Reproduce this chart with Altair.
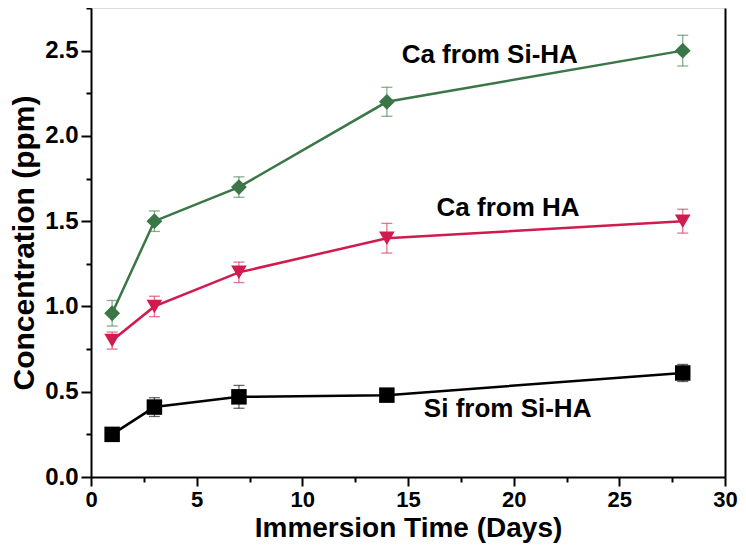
import altair as alt
import pandas as pd

days = [1, 3, 7, 14, 28]
series_names = ["Ca from Si-HA", "Ca from HA", "Si from Si-HA"]
ca_siha = [0.96, 1.50, 1.70, 2.20, 2.50]
ca_siha_err = [0.075, 0.06, 0.06, 0.085, 0.09]
ca_ha = [0.80, 1.00, 1.20, 1.40, 1.50]
ca_ha_err = [0.05, 0.06, 0.06, 0.087, 0.07]
si_siha = [0.25, 0.41, 0.47, 0.48, 0.61]
si_siha_err = [0.0, 0.055, 0.067, 0.035, 0.05]
colors = ["#3a7646", "#d11a4d", "#000000"]
shapes = ["diamond", "triangle-down", "square"]
marker_sizes = [250, 240, 140]

label_texts = ["Ca from Si-HA", "Ca from HA", "Si from Si-HA"]
label_x = [14.7, 16.35, 15.75]
label_y = [2.475, 1.578, 0.399]

rows = []
for name, vals, errs in zip(series_names, [ca_siha, ca_ha, si_siha],
                            [ca_siha_err, ca_ha_err, si_siha_err]):
    for d, v, e in zip(days, vals, errs):
        rows.append({"series": name, "day": d, "conc": v,
                     "lo": v - e, "hi": v + e})
df = pd.DataFrame(rows)
lab = pd.DataFrame({"text": label_texts, "x": label_x, "y": label_y})

FONT = "Liberation Sans"

xscale = alt.Scale(domain=[0, 30], nice=False, zero=False)
yscale = alt.Scale(domain=[0, 2.75], nice=False)
cscale = alt.Scale(domain=series_names, range=colors)
sscale = alt.Scale(domain=series_names, range=shapes)
zscale = alt.Scale(domain=series_names, range=marker_sizes)

xaxis = alt.Axis(
    values=[i * 2.5 for i in range(13)],
    labelExpr="datum.value % 5 === 0 ? datum.label : ''",
    tickSize={"condition": {"test": "datum.value % 5 === 0", "value": 9}, "value": 5},
    title="Immersion Time (Days)",
    titleFont=FONT, titleFontSize=28, titleFontWeight="bold", titleColor="black",
    titlePadding=4,
    labelFont=FONT, labelFontSize=22, labelFontWeight="bold", labelColor="black",
    labelPadding=3, labelFlush=False,
    domainColor="black", domainWidth=2, tickColor="black", tickWidth=2,
    grid=False,
)
yaxis = alt.Axis(
    values=[i * 0.25 for i in range(12)],
    labelExpr="abs(datum.value*2 - round(datum.value*2)) < 1e-6 ? format(datum.value, '.1f') : ''",
    tickSize={"condition": {"test": "abs(datum.value*2 - round(datum.value*2)) < 1e-6", "value": 10}, "value": 5},
    title="Concentration (ppm)",
    titleFont=FONT, titleFontSize=30, titleFontWeight="bold", titleColor="black",
    titlePadding=5,
    labelFont=FONT, labelFontSize=24, labelFontWeight="bold", labelColor="black",
    labelPadding=3, labelFlush=False,
    domainColor="black", domainWidth=2, tickColor="black", tickWidth=2,
    grid=False,
)

X = alt.X("day:Q", scale=xscale, axis=xaxis, title="Immersion Time (Days)")
C = alt.Color("series:N", scale=cscale, legend=None)

base = alt.Chart(df)

err = base.mark_errorbar(ticks={"size": 11, "thickness": 1.3}, thickness=1.3, opacity=0.6).encode(
    x=X,
    y=alt.Y("lo:Q", scale=yscale, axis=None, title=None),
    y2="hi:Q",
    color=C,
)

lines = base.mark_line(strokeWidth=2.5).encode(
    x=X,
    y=alt.Y("conc:Q", scale=yscale, axis=yaxis, title="Concentration (ppm)"),
    color=C,
    detail="series:N",
)

pts = base.mark_point(filled=True, opacity=1).encode(
    x=X,
    y=alt.Y("conc:Q", scale=yscale, axis=None),
    color=C,
    shape=alt.Shape("series:N", scale=sscale, legend=None),
    size=alt.Size("series:N", scale=zscale, legend=None),
)

texts = alt.Chart(lab).mark_text(
    align="left", baseline="middle", font=FONT, fontWeight="bold",
    fontSize=26, color="black",
).encode(
    x=alt.X("x:Q", scale=xscale, axis=xaxis, title="Immersion Time (Days)"),
    y=alt.Y("y:Q", scale=yscale, axis=alt.Axis(
        orient="right", labels=False, ticks=False, title=None, grid=False,
        domainColor="black", domainWidth=2)),
    text="text:N",
)

chart = alt.layer(err, lines, pts, texts).resolve_axis(y="independent").properties(
    width=634, height=469,
    autosize=alt.AutoSizeParams(type="none"),
    padding={"left": 83, "top": 0, "right": 13, "bottom": 69},
).configure_view(stroke=None).configure(background="white")

chart.save("out.html", embed_options={"renderer": "svg", "actions": False})
